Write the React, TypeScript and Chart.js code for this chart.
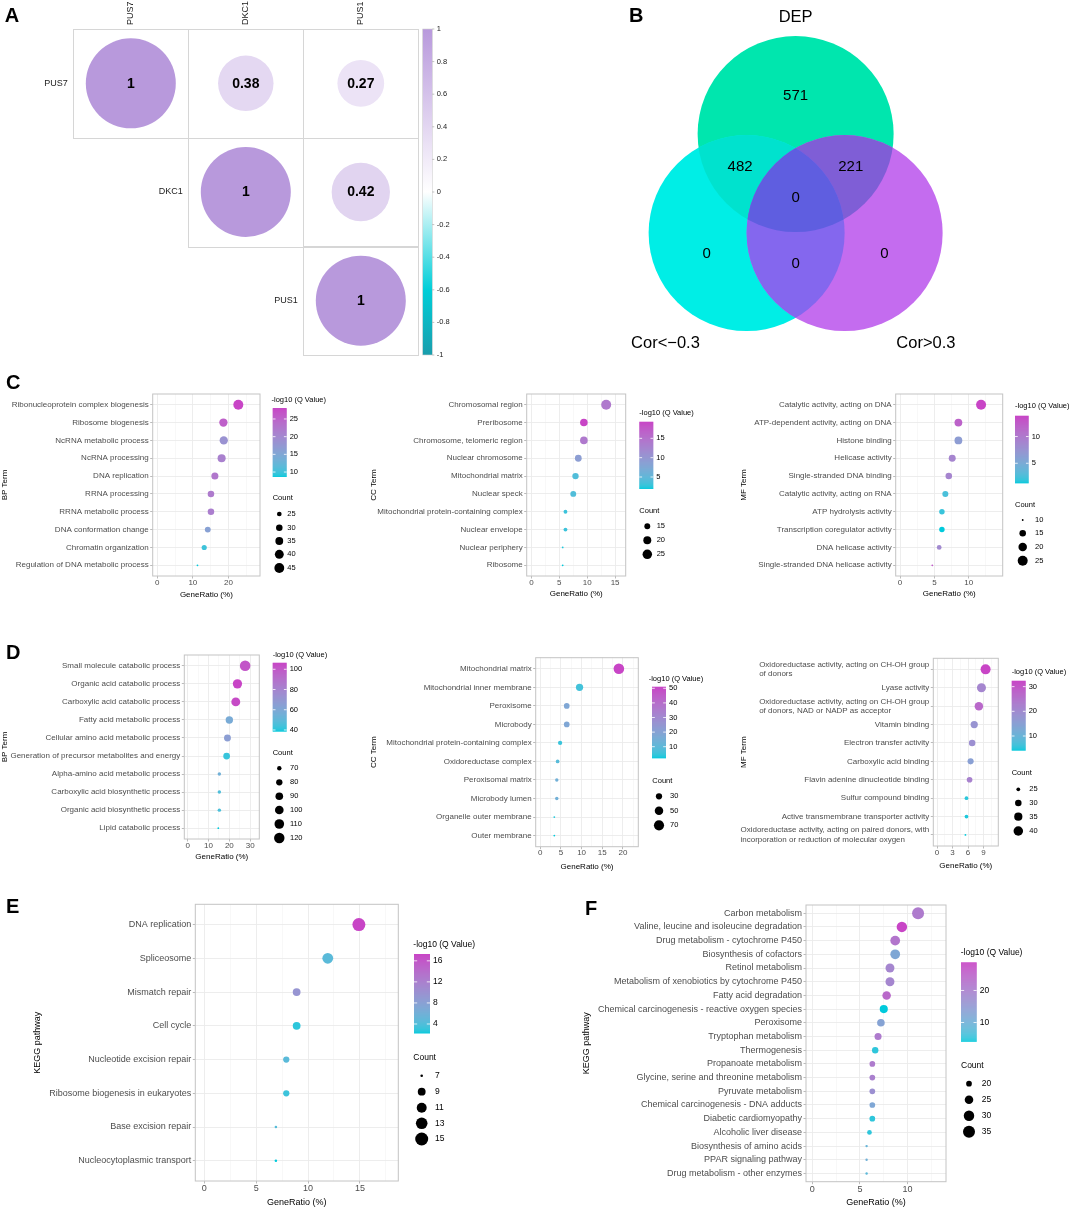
import React, { useEffect, useRef } from 'react';
import { Chart, registerables } from 'chart.js';
Chart.register(...registerables);

const FONT = "'Liberation Sans', Arial, Helvetica, sans-serif";

// ---------------- Panel A: correlation ----------------
const CORR_GENES = ['PUS7', 'DKC1', 'PUS1'];
const CORR_MATRIX = [
  [1, 0.38, 0.27],
  [0.38, 1, 0.42],
  [0.27, 0.42, 1],
];
const CORR_BAR_TICKS = [1, 0.8, 0.6, 0.4, 0.2, 0, -0.2, -0.4, -0.6, -0.8, -1];

// ---------------- Panel B: Venn ----------------
const VENN_SETS = ['DEP', 'Cor<\u22120.3', 'Cor>0.3'];
const VENN_REGIONS = ['DEP only', 'DEP & Cor<-0.3', 'DEP & Cor>0.3', 'all three', 'Cor<-0.3 only', 'Cor<-0.3 & Cor>0.3', 'Cor>0.3 only'];
const VENN_COUNTS = [571, 482, 221, 0, 0, 0, 0];

// ---------------- Panel C ----------------
const C_BP_TERMS = ['Ribonucleoprotein complex biogenesis', 'Ribosome biogenesis', 'NcRNA metabolic process', 'NcRNA processing', 'DNA replication', 'RRNA processing', 'RRNA metabolic process', 'DNA conformation change', 'Chromatin organization', 'Regulation of DNA metabolic process'];
const C_BP_RATIO = [22.8, 18.6, 18.7, 18.1, 16.2, 15.1, 15.1, 14.2, 13.2, 11.3];
const C_BP_COUNT = [46, 37, 37, 36, 32, 30, 30, 28, 26, 22];
const C_BP_Q = [28.1, 25.5, 18.5, 21, 22.5, 22, 21.5, 16, 10, 8.6];
const C_BP_XTICKS = [0, 10, 20];
const C_BP_QTICKS = [10, 15, 20, 25];
const C_BP_CTICKS = [25, 30, 35, 40, 45];

const C_CC_TERMS = ['Chromosomal region', 'Preribosome', 'Chromosome, telomeric region', 'Nuclear chromosome', 'Mitochondrial matrix', 'Nuclear speck', 'Mitochondrial protein-containing complex', 'Nuclear envelope', 'Nuclear periphery', 'Ribosome'];
const C_CC_RATIO = [13.4, 9.4, 9.4, 8.4, 7.9, 7.5, 6.1, 6.1, 5.6, 5.6];
const C_CC_COUNT = [27, 19, 19, 17, 16, 15, 12, 12, 11, 11];
const C_CC_Q = [14, 19.3, 14, 9, 4, 4, 3, 3, 2.2, 1.9];
const C_CC_XTICKS = [0, 5, 10, 15];
const C_CC_QTICKS = [5, 10, 15];
const C_CC_CTICKS = [15, 20, 25];

const C_MF_TERMS = ['Catalytic activity, acting on DNA', 'ATP-dependent activity, acting on DNA', 'Histone binding', 'Helicase activity', 'Single-stranded DNA binding', 'Catalytic activity, acting on RNA', 'ATP hydrolysis activity', 'Transcription coregulator activity', 'DNA helicase activity', 'Single-stranded DNA helicase activity'];
const C_MF_RATIO = [11.8, 8.5, 8.5, 7.6, 7.1, 6.6, 6.1, 6.1, 5.7, 4.7];
const C_MF_COUNT = [25, 18, 18, 16, 15, 14, 13, 13, 12, 10];
const C_MF_Q = [13.9, 12, 6.5, 9, 9, 2.5, 2, 1.25, 8.5, 12.5];
const C_MF_XTICKS = [0, 5, 10];
const C_MF_QTICKS = [5, 10];
const C_MF_CTICKS = [10, 15, 20, 25];

// ---------------- Panel D ----------------
const D_BP_TERMS = ['Small molecule catabolic process', 'Organic acid catabolic process', 'Carboxylic acid catabolic process', 'Fatty acid metabolic process', 'Cellular amino acid metabolic process', 'Generation of precursor metabolites and energy', 'Alpha-amino acid metabolic process', 'Carboxylic acid biosynthetic process', 'Organic acid biosynthetic process', 'Lipid catabolic process'];
const D_BP_RATIO = [27.6, 23.9, 23.1, 20.0, 19.1, 18.7, 15.2, 15.2, 15.2, 14.7];
const D_BP_COUNT = [122, 106, 102, 88, 84, 83, 67, 67, 67, 65];
const D_BP_Q = [101, 106.5, 105, 58, 66, 42, 55, 46, 45, 38.3];
const D_BP_XTICKS = [0, 10, 20, 30];
const D_BP_QTICKS = [40, 60, 80, 100];
const D_BP_CTICKS = [70, 80, 90, 100, 110, 120];

const D_CC_TERMS = ['Mitochondrial matrix', 'Mitochondrial inner membrane', 'Peroxisome', 'Microbody', 'Mitochondrial protein-containing complex', 'Oxidoreductase complex', 'Peroxisomal matrix', 'Microbody lumen', 'Organelle outer membrane', 'Outer membrane'];
const D_CC_RATIO = [19.0, 9.5, 6.4, 6.4, 4.8, 4.2, 4.0, 4.0, 3.4, 3.4];
const D_CC_COUNT = [76, 38, 26, 26, 19, 17, 16, 16, 14, 14];
const D_CC_Q = [51.1, 6, 18, 18, 5, 9, 14, 14, 3, 2.05];
const D_CC_XTICKS = [0, 5, 10, 15, 20];
const D_CC_QTICKS = [10, 20, 30, 40, 50];
const D_CC_CTICKS = [30, 50, 70];

const D_MF_TERMS = ['Oxidoreductase activity, acting on CH-OH group\nof donors', 'Lyase activity', 'Oxidoreductase activity, acting on CH-OH group\nof donors, NAD or NADP as acceptor', 'Vitamin binding', 'Electron transfer activity', 'Carboxylic acid binding', 'Flavin adenine dinucleotide binding', 'Sulfur compound binding', 'Active transmembrane transporter activity', 'Oxidoreductase activity, acting on paired donors, with\nincorporation or reduction of molecular oxygen'];
const D_MF_RATIO = [9.4, 8.6, 8.1, 7.2, 6.8, 6.5, 6.3, 5.7, 5.7, 5.5];
const D_MF_COUNT = [42, 38, 36, 32, 30, 29, 28, 25, 25, 24];
const D_MF_Q = [32.4, 21, 27, 18, 19, 15, 22, 5, 4.5, 4.05];
const D_MF_XTICKS = [0, 3, 6, 9];
const D_MF_QTICKS = [10, 20, 30];
const D_MF_CTICKS = [25, 30, 35, 40];

// ---------------- Panel E ----------------
const E_TERMS = ['DNA replication', 'Spliceosome', 'Mismatch repair', 'Cell cycle', 'Nucleotide excision repair', 'Ribosome biogenesis in eukaryotes', 'Base excision repair', 'Nucleocytoplasmic transport'];
const E_RATIO = [14.9, 11.9, 8.9, 8.9, 7.9, 7.9, 6.9, 6.9];
const E_COUNT = [15, 12, 9, 9, 8, 8, 7, 7];
const E_Q = [17.3, 4.5, 9.5, 2.8, 4.5, 3.2, 4.2, 2.23];
const E_XTICKS = [0, 5, 10, 15];
const E_QTICKS = [4, 8, 12, 16];
const E_CTICKS = [7, 9, 11, 13, 15];

// ---------------- Panel F ----------------
const F_TERMS = ['Carbon metabolism', 'Valine, leucine and isoleucine degradation', 'Drug metabolism - cytochrome P450', 'Biosynthesis of cofactors', 'Retinol metabolism', 'Metabolism of xenobiotics by cytochrome P450', 'Fatty acid degradation', 'Chemical carcinogenesis - reactive oxygen species', 'Peroxisome', 'Tryptophan metabolism', 'Thermogenesis', 'Propanoate metabolism', 'Glycine, serine and threonine metabolism', 'Pyruvate metabolism', 'Chemical carcinogenesis - DNA adducts', 'Diabetic cardiomyopathy', 'Alcoholic liver disease', 'Biosynthesis of amino acids', 'PPAR signaling pathway', 'Drug metabolism - other enzymes'];
const F_RATIO = [11.1, 9.4, 8.7, 8.7, 8.15, 8.15, 7.8, 7.5, 7.2, 6.9, 6.6, 6.3, 6.3, 6.3, 6.3, 6.3, 6.0, 5.7, 5.7, 5.7];
const F_COUNT = [35, 30, 28, 28, 26, 26, 25, 24, 23, 22, 21, 20, 20, 20, 20, 20, 19, 18, 18, 18];
const F_Q = [21, 28.8, 22, 12, 19, 19, 24, 4, 13, 21, 5, 21, 20, 17, 12, 5, 5, 9, 10, 8];
const F_XTICKS = [0, 5, 10];
const F_QTICKS = [10, 20];
const F_CTICKS = [20, 25, 30, 35];

// ---------------- colour helpers ----------------
const GRAD_LOW = '#00CADC';
const GRAD_HIGH = '#C845C6';
function hexRgb(h: string) { const n = parseInt(h.slice(1), 16); return [(n >> 16) & 255, (n >> 8) & 255, n & 255]; }
const toLin = (c: number) => { c /= 255; return c <= 0.04045 ? c / 12.92 : Math.pow((c + 0.055) / 1.055, 2.4); };
const fromLin = (c: number) => { const v = c <= 0.0031308 ? 12.92 * c : 1.055 * Math.pow(Math.max(c, 0), 1 / 2.4) - 0.055; return Math.round(Math.min(1, Math.max(0, v)) * 255); };
function rgbLab(rgb: number[]) {
  const [r, g, b] = rgb.map(toLin);
  const X = (0.4124 * r + 0.3576 * g + 0.1805 * b) / 0.95047;
  const Y = 0.2126 * r + 0.7152 * g + 0.0722 * b;
  const Z = (0.0193 * r + 0.1192 * g + 0.9505 * b) / 1.08883;
  const f = (t: number) => (t > 0.008856 ? Math.cbrt(t) : 7.787 * t + 16 / 116);
  return [116 * f(Y) - 16, 500 * (f(X) - f(Y)), 200 * (f(Y) - f(Z))];
}
function labRgb(lab: number[]) {
  const fy = (lab[0] + 16) / 116, fx = fy + lab[1] / 500, fz = fy - lab[2] / 200;
  const inv = (t: number) => (t * t * t > 0.008856 ? t * t * t : (t - 16 / 116) / 7.787);
  const X = inv(fx) * 0.95047, Y = inv(fy), Z = inv(fz) * 1.08883;
  const r = 3.2406 * X - 1.5372 * Y - 0.4986 * Z;
  const g = -0.9689 * X + 1.8758 * Y + 0.0415 * Z;
  const b = 0.0557 * X - 0.204 * Y + 1.057 * Z;
  return `rgb(${fromLin(r)},${fromLin(g)},${fromLin(b)})`;
}
const LAB_LOW = rgbLab(hexRgb(GRAD_LOW));
const LAB_HIGH = rgbLab(hexRgb(GRAD_HIGH));
function gradColor(t: number) {
  t = Math.max(0, Math.min(1, t));
  return labRgb(LAB_LOW.map((v, i) => v + (LAB_HIGH[i] - v) * t));
}

const CORR_STOPS: [number, string][] = [[-1, '#1A9DAC'], [-0.6, '#00CED8'], [0, '#FFFFFF'], [1, '#B899DC']];
function corrColor(v: number) {
  for (let k = 0; k < CORR_STOPS.length - 1; k++) {
    const [a, ca] = CORR_STOPS[k];
    const [b, cb] = CORR_STOPS[k + 1];
    if (v >= a && v <= b) {
      const t = (v - a) / (b - a);
      const p = hexRgb(ca), q = hexRgb(cb);
      return `rgb(${p.map((x, i) => Math.round(x + (q[i] - x) * t)).join(',')})`;
    }
  }
  return CORR_STOPS[CORR_STOPS.length - 1][1];
}

// ---------------- Panel A chart ----------------
const CORR_R = 45;
function buildCorr(canvas: HTMLCanvasElement) {
  const pts: any[] = [];
  CORR_MATRIX.forEach((row, i) => row.forEach((v, j) => {
    if (j >= i) pts.push({ x: j, y: i, r: CORR_R * Math.sqrt(Math.abs(v)), v });
  }));
  const decor = {
    id: 'corrDecor',
    beforeDatasetsDraw(chart: any) {
      const { ctx, scales: { x, y } } = chart;
      ctx.save();
      ctx.strokeStyle = '#D6D6D6';
      ctx.lineWidth = 1;
      CORR_MATRIX.forEach((row, i) => row.forEach((_, j) => {
        if (j < i) return;
        const x0 = x.getPixelForValue(j - 0.5), x1 = x.getPixelForValue(j + 0.5);
        const y0 = y.getPixelForValue(i - 0.5), y1 = y.getPixelForValue(i + 0.5);
        ctx.strokeRect(Math.round(x0) + 0.5, Math.round(y0) + 0.5, Math.round(x1 - x0), Math.round(y1 - y0));
      }));
      ctx.restore();
    },
    afterDatasetsDraw(chart: any) {
      const { ctx, chartArea: ca, scales: { x, y } } = chart;
      ctx.save();
      ctx.fillStyle = '#000';
      ctx.font = `bold 14px ${FONT}`;
      ctx.textAlign = 'center';
      ctx.textBaseline = 'middle';
      pts.forEach((p) => {
        ctx.fillText(p.v === 1 ? '1' : p.v.toFixed(2), x.getPixelForValue(p.x), y.getPixelForValue(p.y) + 0.5);
      });
      ctx.font = `9px ${FONT}`;
      ctx.fillStyle = '#222';
      CORR_GENES.forEach((g, i) => {
        ctx.textAlign = 'right';
        ctx.fillText(g, x.getPixelForValue(i - 0.5) - 5.5, y.getPixelForValue(i));
        ctx.save();
        ctx.translate(x.getPixelForValue(i), ca.top - 4);
        ctx.rotate(-Math.PI / 2);
        ctx.textAlign = 'left';
        ctx.fillText(g, 0, 0);
        ctx.restore();
      });
      // colour bar
      const bx = ca.right + 4.4, bw = 9.6;
      const top = ca.top, bot = ca.bottom;
      const grad = ctx.createLinearGradient(0, top, 0, bot);
      CORR_STOPS.forEach(([v, c]) => grad.addColorStop((1 - v) / 2, c));
      ctx.fillStyle = grad;
      ctx.fillRect(bx, top, bw, bot - top);
      ctx.strokeStyle = '#D0D0D0';
      ctx.lineWidth = 0.6;
      ctx.strokeRect(bx, top, bw, bot - top);
      ctx.font = `7.5px ${FONT}`;
      ctx.textAlign = 'left';
      ctx.fillStyle = '#222';
      CORR_BAR_TICKS.forEach((v) => {
        const yy = top + ((1 - v) / 2) * (bot - top);
        ctx.strokeStyle = '#999';
        ctx.beginPath();
        ctx.moveTo(bx + bw, yy);
        ctx.lineTo(bx + bw + 2, yy);
        ctx.stroke();
        ctx.fillText(String(v), bx + bw + 4.4, yy);
      });
      ctx.restore();
    },
  };
  return new Chart(canvas, {
    type: 'bubble',
    data: { datasets: [{ data: pts, backgroundColor: pts.map((p) => corrColor(p.v)), borderWidth: 0 }] },
    options: {
      responsive: false,
      animation: false,
      events: [],
      layout: { autoPadding: false, padding: { left: 73.3, top: 29, right: 460 - 418.3, bottom: 5 } },
      plugins: { legend: { display: false }, tooltip: { enabled: false } },
      scales: {
        x: { type: 'linear', min: -0.5, max: 2.5, display: false },
        y: { type: 'linear', min: -0.5, max: 2.5, reverse: true, display: false },
      },
    } as any,
    plugins: [decor],
  } as any);
}

// ---------------- Panel B chart ----------------
const VENN_CENTERS = [[0, 1.01], [-0.5, 0], [0.5, 0]];
const VENN_RADIUS = 1;
const VENN_COUNT_POS = [[0, 1.398], [-0.567, 0.677], [0.562, 0.677], [0, 0.36], [-0.907, -0.214], [0, -0.316], [0.905, -0.214]];
const VENN_SET_POS = [[0, 2.204], [-1.328, -1.126], [1.329, -1.126]];
const VENN_FILL = ['#00E6AE', '#00EEE6', '#C46CEF'];
const VENN_PAIR_FILL: [number, number, string][] = [[0, 1, '#00E2CE'], [0, 2, '#7F5ED6'], [1, 2, '#8467EE']];
const VENN_TRIPLE_FILL = '#5F5EE0';

function buildVenn(canvas: HTMLCanvasElement) {
  const decor = {
    id: 'vennDecor',
    beforeDatasetsDraw(chart: any) {
      const { ctx, scales: { x, y } } = chart;
      const circ = VENN_CENTERS.map(([cx, cy]) => ({
        px: x.getPixelForValue(cx),
        py: y.getPixelForValue(cy),
        r: x.getPixelForValue(cx + VENN_RADIUS) - x.getPixelForValue(cx),
      }));
      const path = (c: any) => { ctx.beginPath(); ctx.arc(c.px, c.py, c.r, 0, Math.PI * 2); };
      ctx.save();
      circ.forEach((c, i) => { path(c); ctx.fillStyle = VENN_FILL[i]; ctx.fill(); });
      VENN_PAIR_FILL.forEach(([a, b, col]) => {
        ctx.save(); path(circ[a]); ctx.clip(); path(circ[b]); ctx.fillStyle = col; ctx.fill(); ctx.restore();
      });
      ctx.save(); path(circ[0]); ctx.clip(); path(circ[1]); ctx.clip(); path(circ[2]); ctx.fillStyle = VENN_TRIPLE_FILL; ctx.fill(); ctx.restore();
      ctx.fillStyle = '#000';
      ctx.textAlign = 'center';
      ctx.textBaseline = 'middle';
      ctx.font = `15px ${FONT}`;
      VENN_COUNTS.forEach((n, i) => ctx.fillText(String(n), x.getPixelForValue(VENN_COUNT_POS[i][0]), y.getPixelForValue(VENN_COUNT_POS[i][1])));
      ctx.font = `16.5px ${FONT}`;
      VENN_SETS.forEach((s, i) => ctx.fillText(s, x.getPixelForValue(VENN_SET_POS[i][0]), y.getPixelForValue(VENN_SET_POS[i][1])));
      ctx.restore();
    },
  };
  return new Chart(canvas, {
    type: 'scatter',
    data: { datasets: [{ data: VENN_CENTERS.map(([a, b]) => ({ x: a, y: b })), pointRadius: 0 }] },
    options: {
      responsive: false,
      animation: false,
      events: [],
      layout: { autoPadding: false, padding: 0 },
      plugins: { legend: { display: false }, tooltip: { enabled: false } },
      scales: {
        x: { type: 'linear', min: -1.792, max: 2.82, display: false },
        y: { type: 'linear', min: -1.296, max: 2.378, display: false },
      },
    } as any,
    plugins: [decor],
  } as any);
}

// ---------------- Dot plots ----------------
type DotCfg = {
  terms: string[]; ratio: number[]; count: number[]; q: number[];
  yTitle: string; L: number; T: number; W: number; H: number;
  box: number[]; xMin: number; xMax: number; xMajor: number[];
  yTitleX: number; xTitleY: number;
  fs: number; lfs: number; rMin: number; rMax: number; tickPad: number;
  cb: number[]; qBreaks: number[]; qTitle: number[];
  cTitle: number[]; cBreaks: number[]; cY: number[]; cX: number; cLabelX: number;
};

const DOT_PANELS: DotCfg[] = [
  { terms: C_BP_TERMS, ratio: C_BP_RATIO, count: C_BP_COUNT, q: C_BP_Q, yTitle: 'BP Term', L: 0, T: 378, W: 362, H: 226,
    box: [152.7, 394, 260, 576], xMin: -1.3, xMax: 28.9, xMajor: C_BP_XTICKS, yTitleX: 5, xTitleY: 595,
    fs: 8, lfs: 7.5, rMin: 0.9, rMax: 5, tickPad: 0,
    cb: [272.7, 408, 286.7, 477], qBreaks: C_BP_QTICKS, qTitle: [271.5, 400], cTitle: [272.7, 498], cBreaks: C_BP_CTICKS, cY: [514, 527.7, 541, 554.3, 568], cX: 279.3, cLabelX: 287.3 },
  { terms: C_CC_TERMS, ratio: C_CC_RATIO, count: C_CC_COUNT, q: C_CC_Q, yTitle: 'CC Term', L: 362, T: 378, W: 360, H: 226,
    box: [526.7, 394, 625.7, 576], xMin: -0.85, xMax: 16.9, xMajor: C_CC_XTICKS, yTitleX: 373.3, xTitleY: 594,
    fs: 8, lfs: 7.5, rMin: 0.9, rMax: 5, tickPad: 0,
    cb: [639.3, 421.7, 653.3, 489], qBreaks: C_CC_QTICKS, qTitle: [639.3, 413.3], cTitle: [639.3, 511], cBreaks: C_CC_CTICKS, cY: [526.3, 540.3, 554.3], cX: 647.3, cLabelX: 656.7 },
  { terms: C_MF_TERMS, ratio: C_MF_RATIO, count: C_MF_COUNT, q: C_MF_Q, yTitle: 'MF Term', L: 722, T: 378, W: 350, H: 226,
    box: [895.7, 394, 1002.7, 576], xMin: -0.63, xMax: 14.95, xMajor: C_MF_XTICKS, yTitleX: 743.3, xTitleY: 593.3,
    fs: 8, lfs: 7.5, rMin: 0.9, rMax: 5, tickPad: 0,
    cb: [1015, 415.7, 1028.7, 483.3], qBreaks: C_MF_QTICKS, qTitle: [1015, 406], cTitle: [1015, 505], cBreaks: C_MF_CTICKS, cY: [520, 533.3, 547, 560.7], cX: 1022.7, cLabelX: 1035 },
  { terms: D_BP_TERMS, ratio: D_BP_RATIO, count: D_BP_COUNT, q: D_BP_Q, yTitle: 'BP Term', L: 0, T: 644, W: 362, H: 230,
    box: [184.3, 655, 259.3, 839], xMin: -1.64, xMax: 34.4, xMajor: D_BP_XTICKS, yTitleX: 5, xTitleY: 856.7,
    fs: 8, lfs: 7.5, rMin: 0.9, rMax: 5.3, tickPad: 0,
    cb: [272.7, 662.7, 286.7, 731.7], qBreaks: D_BP_QTICKS, qTitle: [272.7, 655], cTitle: [272.7, 753.3], cBreaks: D_BP_CTICKS, cY: [768.3, 782.3, 796.3, 810, 824, 838], cX: 279.3, cLabelX: 290 },
  { terms: D_CC_TERMS, ratio: D_CC_RATIO, count: D_CC_COUNT, q: D_CC_Q, yTitle: 'CC Term', L: 362, T: 644, W: 360, H: 230,
    box: [535.7, 657.7, 638.3, 846.7], xMin: -1.1, xMax: 23.7, xMajor: D_CC_XTICKS, yTitleX: 373.3, xTitleY: 866.7,
    fs: 8, lfs: 7.5, rMin: 0.9, rMax: 5.3, tickPad: 0,
    cb: [652, 686.7, 666, 758.3], qBreaks: D_CC_QTICKS, qTitle: [648.7, 679], cTitle: [652.3, 780.7], cBreaks: D_CC_CTICKS, cY: [796.3, 810.7, 825.3], cX: 659, cLabelX: 670 },
  { terms: D_MF_TERMS, ratio: D_MF_RATIO, count: D_MF_COUNT, q: D_MF_Q, yTitle: 'MF Term', L: 722, T: 644, W: 350, H: 230,
    box: [933.3, 658.3, 998.3, 846], xMin: -0.72, xMax: 11.86, xMajor: D_MF_XTICKS, yTitleX: 743.3, xTitleY: 865.7,
    fs: 8, lfs: 7.5, rMin: 0.9, rMax: 5, tickPad: 0,
    cb: [1011.7, 680.7, 1025.7, 750.7], qBreaks: D_MF_QTICKS, qTitle: [1011.7, 672.3], cTitle: [1011.7, 773.3], cBreaks: D_MF_CTICKS, cY: [789.3, 803, 816.7, 831], cX: 1018.3, cLabelX: 1029.3 },
  { terms: E_TERMS, ratio: E_RATIO, count: E_COUNT, q: E_Q, yTitle: 'KEGG pathway', L: 20, T: 892, W: 480, H: 317,
    box: [195.3, 904.3, 398.3, 1181], xMin: -0.87, xMax: 18.7, xMajor: E_XTICKS, yTitleX: 37.3, xTitleY: 1202.3,
    fs: 9, lfs: 8.5, rMin: 1.3, rMax: 6.5, tickPad: 1,
    cb: [414, 954, 430, 1033.3], qBreaks: E_QTICKS, qTitle: [413.3, 944.3], cTitle: [413.3, 1057.7], cBreaks: E_CTICKS, cY: [1075.7, 1091.7, 1107.7, 1123.3, 1139], cX: 421.7, cLabelX: 435 },
  { terms: F_TERMS, ratio: F_RATIO, count: F_COUNT, q: F_Q, yTitle: 'KEGG pathway', L: 575, T: 892, W: 497, H: 317,
    box: [806, 905, 946, 1181.7], xMin: -0.66, xMax: 14.03, xMajor: F_XTICKS, yTitleX: 586.7, xTitleY: 1202.3,
    fs: 9, lfs: 8.5, rMin: 1.2, rMax: 6.0, tickPad: 1,
    cb: [961, 962.3, 976.7, 1041.7], qBreaks: F_QTICKS, qTitle: [960.7, 952.3], cTitle: [961, 1066], cBreaks: F_CTICKS, cY: [1083.7, 1099.7, 1115.7, 1131.7], cX: 969, cLabelX: 981.7 },
];

function buildDot(canvas: HTMLCanvasElement, cfg: DotCfg) {
  const n = cfg.terms.length;
  const cMin = Math.min(...cfg.count), cMax = Math.max(...cfg.count);
  const qMin = Math.min(...cfg.q), qMax = Math.max(...cfg.q);
  const radius = (c: number) => cfg.rMin + (cfg.rMax - cfg.rMin) * Math.sqrt(Math.max(0, Math.min(1, (c - cMin) / (cMax - cMin))));
  const color = (q: number) => gradColor((q - qMin) / (qMax - qMin));
  const step = cfg.xMajor[1] - cfg.xMajor[0];
  const xTicks: number[] = [];
  for (let v = cfg.xMajor[0]; v <= cfg.xMax + 1e-9; v += step / 2) xTicks.push(+v.toFixed(4));
  const isMajor = (v: number) => cfg.xMajor.some((m) => Math.abs(m - v) < 1e-6);
  const [bx0, by0, bx1, by1] = cfg.box;
  const L = cfg.L, T = cfg.T, W = cfg.W, H = cfg.H;
  const tLH = cfg.fs * 1.2;
  const decor = {
    id: 'dotDecor',
    afterDraw(chart: any) {
      const { ctx, chartArea: ca } = chart;
      const ys = chart.scales.y;
      const px = (v: number) => v - L, py = (v: number) => v - T;
      ctx.save();
      ctx.strokeStyle = '#C4C4C4';
      ctx.lineWidth = 1;
      ctx.strokeRect(ca.left, ca.top, ca.right - ca.left, ca.bottom - ca.top);
      // category labels
      ctx.font = `${cfg.fs}px ${FONT}`;
      ctx.fillStyle = '#4D4D4D';
      ctx.textBaseline = 'middle';
      const lx = ca.left - 4;
      cfg.terms.forEach((t, i) => {
        const yy = ys.getPixelForValue(i);
        const lines = t.split('\n');
        if (lines.length === 1) {
          ctx.textAlign = 'right';
          ctx.fillText(t, lx, yy);
        } else {
          const w = Math.max(...lines.map((l) => ctx.measureText(l).width));
          ctx.textAlign = 'left';
          const lh = cfg.fs * 1.2;
          lines.forEach((l, k) => ctx.fillText(l, lx - w, yy + (k - (lines.length - 1) / 2) * lh));
        }
      });
      // colour legend
      ctx.fillStyle = '#000';
      ctx.font = `${cfg.lfs}px ${FONT}`;
      ctx.textAlign = 'left';
      ctx.fillText('-log10 (Q Value)', px(cfg.qTitle[0]), py(cfg.qTitle[1]));
      const cx0 = px(cfg.cb[0]), cy0 = py(cfg.cb[1]), cx1 = px(cfg.cb[2]), cy1 = py(cfg.cb[3]);
      const hgt = cy1 - cy0;
      for (let k = 0; k < hgt; k += 1) {
        const t = 1 - (k + 0.5) / hgt;
        ctx.fillStyle = gradColor(t);
        ctx.fillRect(cx0, cy0 + k, cx1 - cx0, Math.min(1.4, cy1 - cy0 - k));
      }
      const tw = (cx1 - cx0) / 5;
      cfg.qBreaks.forEach((b) => {
        const yy = cy0 + ((qMax - b) / (qMax - qMin)) * hgt;
        ctx.strokeStyle = '#FFFFFF';
        ctx.lineWidth = 0.8;
        ctx.beginPath();
        ctx.moveTo(cx0, yy); ctx.lineTo(cx0 + tw, yy);
        ctx.moveTo(cx1 - tw, yy); ctx.lineTo(cx1, yy);
        ctx.stroke();
        ctx.fillStyle = '#000';
        ctx.fillText(String(b), cx1 + 3, yy);
      });
      // size legend
      ctx.fillStyle = '#000';
      ctx.fillText('Count', px(cfg.cTitle[0]), py(cfg.cTitle[1]));
      cfg.cBreaks.forEach((c, k) => {
        const yy = py(cfg.cY[k]);
        ctx.beginPath();
        ctx.arc(px(cfg.cX), yy, radius(c), 0, Math.PI * 2);
        ctx.fill();
        ctx.fillText(String(c), px(cfg.cLabelX), yy);
      });
      ctx.restore();
    },
  };
  const fontSpec = { size: cfg.fs, family: FONT };
  return new Chart(canvas, {
    type: 'bubble',
    data: {
      datasets: [{
        data: cfg.ratio.map((x, i) => ({ x, y: i, r: radius(cfg.count[i]) })),
        backgroundColor: cfg.q.map(color),
        borderWidth: 0,
        hoverBorderWidth: 0,
      }],
    },
    options: {
      responsive: false,
      animation: false,
      events: [],
      layout: { autoPadding: false, padding: { left: 0, top: by0 - T, right: L + W - bx1, bottom: 0 } },
      plugins: { legend: { display: false }, tooltip: { enabled: false } },
      scales: {
        x: {
          type: 'linear', min: cfg.xMin, max: cfg.xMax,
          afterBuildTicks: (s: any) => { s.ticks = xTicks.map((v) => ({ value: v })); },
          afterFit: (s: any) => { s.height = T + H - by1; },
          ticks: {
            autoSkip: false, maxRotation: 0, minRotation: 0, padding: cfg.tickPad,
            color: '#4D4D4D', font: { ...fontSpec, lineHeight: 1 },
            callback: (v: any) => (isMajor(+v) ? String(v) : ''),
          },
          grid: {
            color: (c: any) => (c.tick && isMajor(c.tick.value) ? '#EBEBEB' : '#F4F4F4'),
            lineWidth: (c: any) => (c.tick && isMajor(c.tick.value) ? 0.9 : 0.6),
            tickLength: 2.5,
            tickColor: (c: any) => (c.tick && isMajor(c.tick.value) ? '#B3B3B3' : 'rgba(0,0,0,0)'),
            tickWidth: 0.9,
          },
          border: { display: false },
          title: { display: true, text: 'GeneRatio (%)', color: '#000', font: fontSpec, padding: { top: 0, bottom: T + H - cfg.xTitleY - tLH / 2 } },
        },
        y: {
          type: 'linear', reverse: true, min: -0.6, max: n - 1 + 0.6,
          afterBuildTicks: (s: any) => { s.ticks = cfg.terms.map((_, i) => ({ value: i })); },
          afterFit: (s: any) => { s.width = bx0 - L; },
          ticks: { display: false },
          grid: { color: '#EBEBEB', lineWidth: 0.9, tickLength: 2.5, tickColor: '#B3B3B3', tickWidth: 0.9 },
          border: { display: false },
          title: { display: true, text: cfg.yTitle, color: '#000', font: fontSpec, padding: { top: cfg.yTitleX - L - tLH / 2, bottom: 0 } },
        },
      },
    } as any,
    plugins: [decor],
  } as any);
}

function ChartBox({ L, T, W, H, build }: any) {
  const ref = useRef<HTMLCanvasElement>(null);
  useEffect(() => {
    const chart = build(ref.current);
    return () => chart.destroy();
  }, []);
  return <canvas ref={ref} width={W} height={H} style={{ position: 'absolute', left: L, top: T, width: W, height: H }} />;
}

const PANEL_LETTERS: [string, number, number][] = [['A', 4.7, 4.7], ['B', 629, 5.4], ['C', 6, 372.4], ['D', 6, 642.4], ['E', 6, 896.4], ['F', 585, 898.4]];

export default function App() {
  return (
    <div style={{ position: 'absolute', left: 0, top: 0, width: 1072, height: 1209, background: '#fff', overflow: 'hidden', fontFamily: FONT }}>
      <ChartBox L={0} T={0} W={460} H={360} build={buildCorr} />
      <ChartBox L={620} T={0} W={452} H={360} build={buildVenn} />
      {DOT_PANELS.map((cfg, k) => (
        <ChartBox key={k} L={cfg.L} T={cfg.T} W={cfg.W} H={cfg.H} build={(c: HTMLCanvasElement) => buildDot(c, cfg)} />
      ))}
      {PANEL_LETTERS.map(([t, x, y]) => (
        <div key={t} style={{ position: 'absolute', left: x, top: y, fontSize: 20, lineHeight: '20px', fontWeight: 'bold', color: '#000' }}>{t}</div>
      ))}
    </div>
  );
}
